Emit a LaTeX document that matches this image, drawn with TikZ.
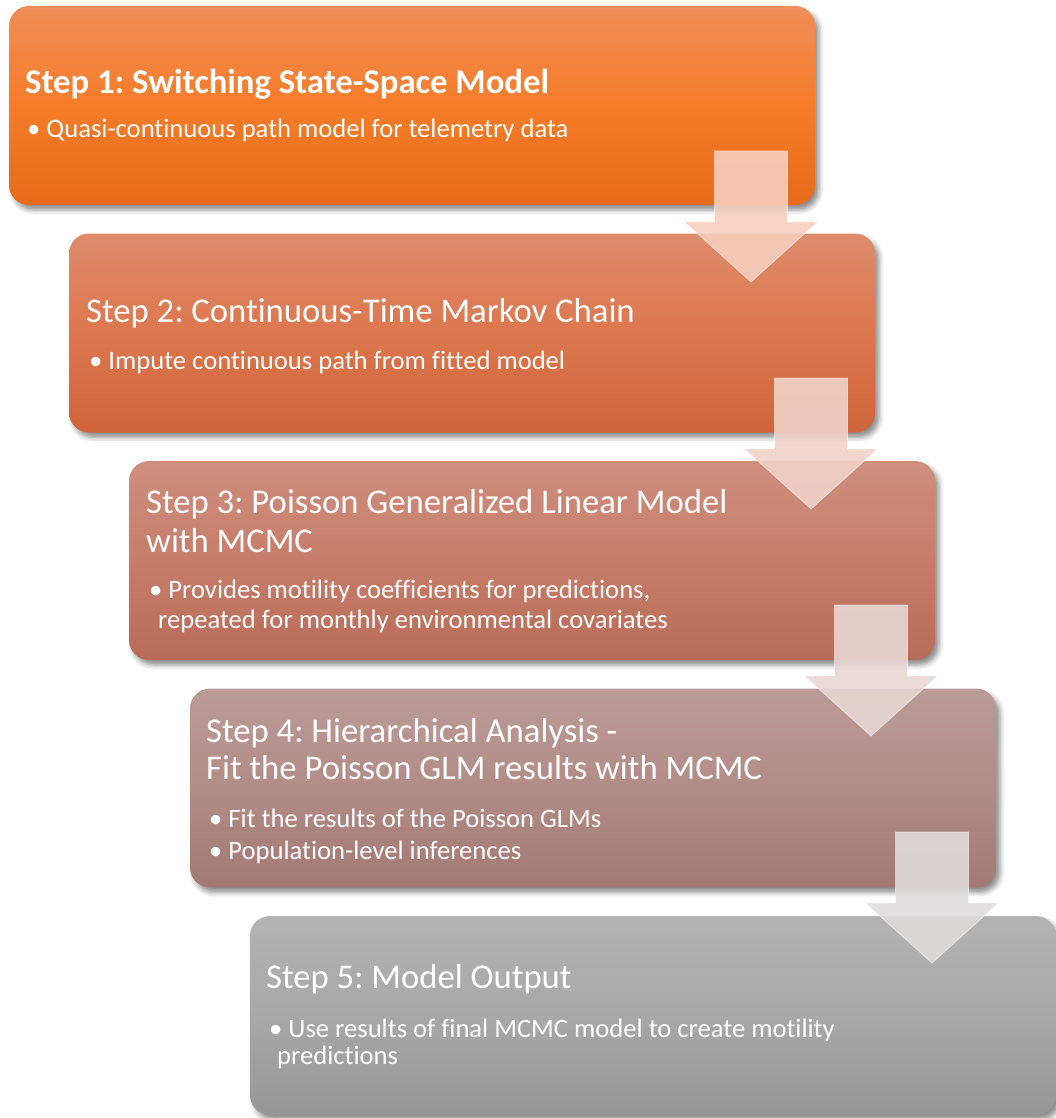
\documentclass[tikz,border=0pt]{standalone}
\usepackage{fontspec}
\setmainfont[Ligatures=NoCommon]{Carlito}
\usetikzlibrary{shadows.blur}
\frenchspacing
\definecolor{bAt}{RGB}{241,141,88}
\definecolor{bAm}{RGB}{245,124,40}
\definecolor{bAb}{RGB}{231,107,26}
\definecolor{bBt}{RGB}{222,139,108}
\definecolor{bBm}{RGB}{221,119,78}
\definecolor{bBb}{RGB}{207,100,58}
\definecolor{bCt}{RGB}{206,142,126}
\definecolor{bCm}{RGB}{199,125,106}
\definecolor{bCb}{RGB}{184,108,88}
\definecolor{bDt}{RGB}{187,155,151}
\definecolor{bDm}{RGB}{178,140,135}
\definecolor{bDb}{RGB}{163,121,115}
\definecolor{bEt}{RGB}{179,179,179}
\definecolor{bEm}{RGB}{168,168,168}
\definecolor{bEb}{RGB}{150,150,150}
\definecolor{arA}{RGB}{247,206,190}
\definecolor{arB}{RGB}{241,210,201}
\definecolor{arC}{RGB}{232,214,212}
\definecolor{arD}{RGB}{222,219,219}
\tikzset{
  stepbox/.style={rectangle, rounded corners=20pt, minimum width=806pt, minimum height=199pt,
    inner sep=0pt, blur shadow={shadow xshift=4pt, shadow yshift=-5pt, shadow blur radius=5pt, shadow opacity=45}},
  ttl/.style={anchor=base west, inner sep=0pt, text=white, font=\fontsize{34.7}{40}\selectfont},
  bul/.style={anchor=base west, inner sep=0pt, text=white, font=\fontsize{26.6}{31}\selectfont},
  arrowfill/.style={fill opacity=0.9, draw=white, draw opacity=0.5, line width=0.8pt}
}
\newcommand{\steparrow}[4]{%
  \coordinate (#1) at (751+#2,151+#3);
  \filldraw[arrowfill, fill=#4] (#1) ++(-36.5,0) -- ++(73,0) -- ++(0,71) -- ++(30,0)
    -- ++(-66.5,60) -- ++(-66.5,-60) -- ++(30,0) -- cycle;}
\begin{document}
\begin{tikzpicture}[x=1pt,y=-1pt]
\useasboundingbox (0,0) rectangle (1055,1118);
% boxes
\node[stepbox, top color=bAt, bottom color=bAb, middle color=bAm] (b1) at (412,105.5) {};
\node[stepbox, top color=bBt, bottom color=bBb, middle color=bBm] (b2) at (472,333) {};
\node[stepbox, top color=bCt, bottom color=bCb, middle color=bCm] (b3) at (532,560.5) {};
\node[stepbox, top color=bDt, bottom color=bDb, middle color=bDm] (b4) at (593,788) {};
\node[stepbox, top color=bEt, bottom color=bEb, middle color=bEm] (b5) at (653,1015.5) {};
% arrows
\steparrow{a1}{0}{0}{arA}
\steparrow{a2}{60}{227}{arB}
\steparrow{a3}{120}{454}{arC}
\steparrow{a4}{181}{681}{arD}
% texts
\node[ttl, font=\fontsize{34.7}{40}\selectfont\bfseries] (t1) at (25,94) {Step 1: Switching State-Space Model};
\node[bul] (p1) at (27,138) {• Quasi-continuous path model for telemetry data};
\node[ttl] (t2) at (86,322) {Step 2: Continuous-Time Markov Chain};
\node[bul] (p2) at (89,369) {• Impute continuous path from fitted model};
\node[ttl] (t3a) at (146,513) {Step 3: Poisson Generalized Linear Model};
\node[ttl] (t3b) at (146,552) {with MCMC};
\node[bul] (p3a) at (149,598) {• Provides motility coefficients for predictions,};
\node[bul] (p3b) at (158,628) {repeated for monthly environmental covariates};
\node[ttl] (t4a) at (206,742) {Step 4: Hierarchical Analysis -};
\node[ttl] (t4b) at (206,779) {Fit the Poisson GLM results with MCMC};
\node[bul] (p4a) at (209,827) {• Fit the results of the Poisson GLMs};
\node[bul] (p4b) at (209,859) {• Population-level inferences};
\node[ttl] (t5) at (266,988) {Step 5: Model Output};
\node[bul] (p5a) at (269,1037) {• Use results of final MCMC model to create motility};
\node[bul] (p5b) at (277,1064) {predictions};
\end{tikzpicture}
\end{document}
